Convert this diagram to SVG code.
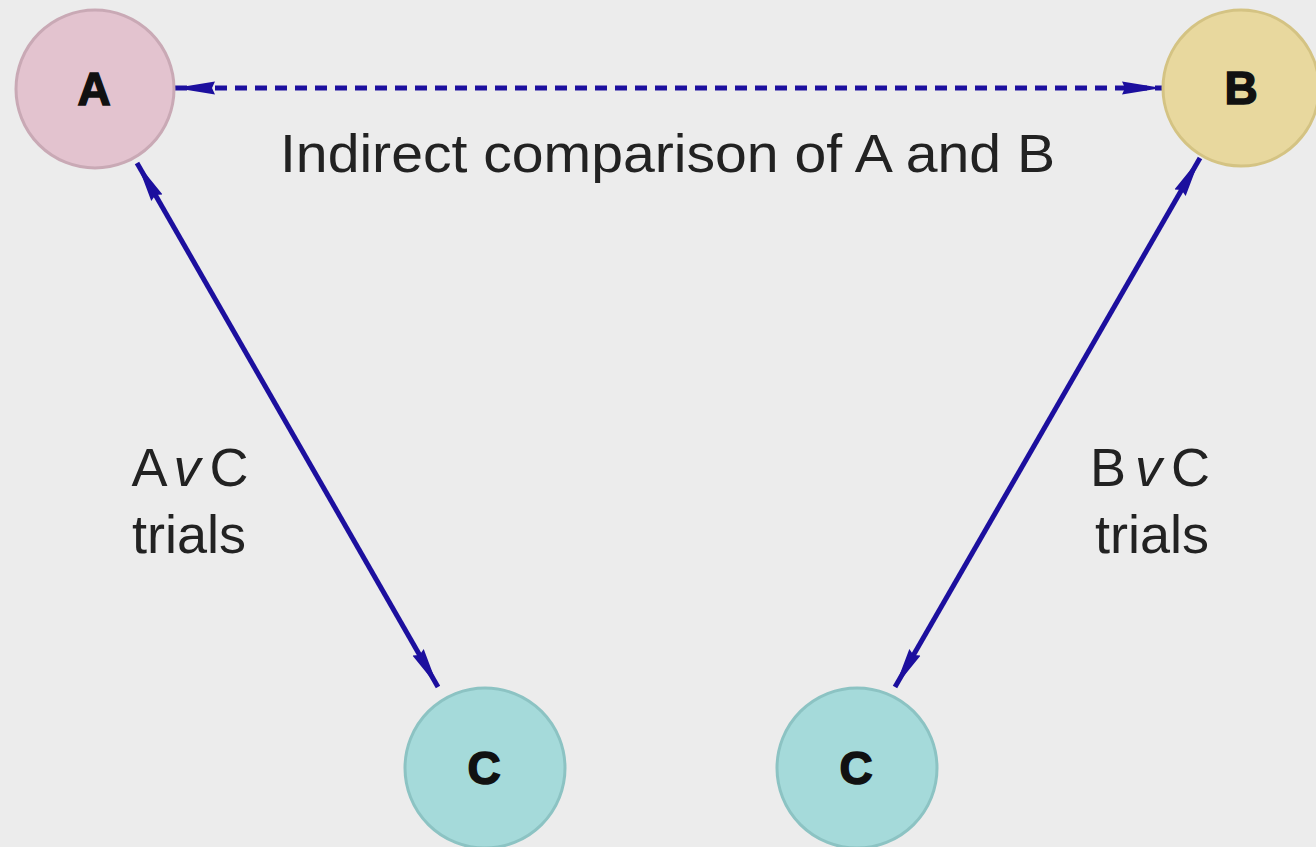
<svg xmlns="http://www.w3.org/2000/svg" width="1316" height="847" viewBox="0 0 1316 847">
<style>
.node-label{font-family:"Liberation Sans","DejaVu Sans",Arial,sans-serif;font-weight:bold;font-size:46px;fill:#111;text-anchor:middle;stroke:#111;stroke-width:1.5}
.lbl{font-family:"Liberation Sans","DejaVu Sans",Arial,sans-serif;font-size:54px;fill:#222}
.tight{word-spacing:-6px}
.conn{stroke:#1c0f9e;stroke-width:5;fill:none}
.dash{stroke-dasharray:12 8}
</style>
<defs>
<marker id="ah" viewBox="0 0 40 14" refX="40" refY="7" markerWidth="40" markerHeight="14" markerUnits="userSpaceOnUse" orient="auto-start-reverse">
<path d="M0,0.5 L40,7 L0,13.5 L3,7 Z" fill="#1c0f9e"/>
</marker>
</defs>
<rect width="1316" height="847" fill="#ececec"/>
<g id="connectors">
<line class="conn dash" x1="175" y1="88" x2="1162" y2="88" marker-start="url(#ah)" marker-end="url(#ah)"/>
<line class="conn" x1="137" y1="163" x2="438" y2="687" marker-start="url(#ah)" marker-end="url(#ah)"/>
<line class="conn" x1="1200" y1="158" x2="895" y2="687" marker-start="url(#ah)" marker-end="url(#ah)"/>
</g>
<g id="node-A">
<circle cx="95" cy="89" r="79" fill="#e3c3cf" stroke="#c9a9b5" stroke-width="3"/>
<text class="node-label" x="94" y="105">A</text>
</g>
<g id="node-B">
<circle cx="1241" cy="88" r="78" fill="#e8d89e" stroke="#d4c383" stroke-width="3"/>
<text class="node-label" x="1241" y="104">B</text>
</g>
<g id="node-C1">
<circle cx="485" cy="768" r="80" fill="#a5dada" stroke="#8cc3c3" stroke-width="3"/>
<text class="node-label" x="484" y="784">C</text>
</g>
<g id="node-C2">
<circle cx="857" cy="768" r="80" fill="#a5dada" stroke="#8cc3c3" stroke-width="3"/>
<text class="node-label" x="856" y="784">C</text>
</g>
<g id="labels">
<text class="lbl" x="280" y="172" textLength="775" lengthAdjust="spacingAndGlyphs">Indirect comparison of A and B</text>
<text class="lbl tight" x="190" y="486" text-anchor="middle">A <tspan font-style="italic">v</tspan> C</text>
<text class="lbl" x="189" y="553" text-anchor="middle">trials</text>
<text class="lbl tight" x="1150" y="486" text-anchor="middle">B <tspan font-style="italic">v</tspan> C</text>
<text class="lbl" x="1152" y="553" text-anchor="middle">trials</text>
</g>
</svg>
